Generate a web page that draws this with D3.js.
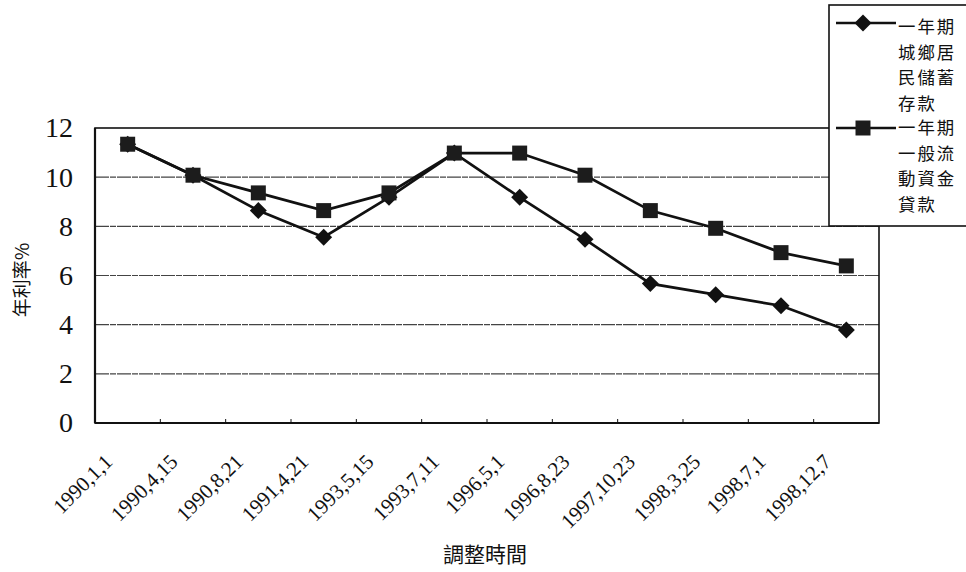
<!DOCTYPE html>
<html>
<head>
<meta charset="utf-8">
<script src="https://cdn.jsdelivr.net/npm/d3@7"></script>
<style>
  html, body { margin: 0; padding: 0; background: #fff; }
  svg { display: block; }
</style>
</head>
<body>
<svg id="chart" width="966" height="572"></svg>
<script>
const categories = ["1990,1,1","1990,4,15","1990,8,21","1991,4,21","1993,5,15","1993,7,11","1996,5,1","1996,8,23","1997,10,23","1998,3,25","1998,7,1","1998,12,7"];
const depositRates = [11.34, 10.08, 8.64, 7.56, 9.18, 10.98, 9.18, 7.47, 5.67, 5.22, 4.77, 3.78];
const loanRates = [11.34, 10.08, 9.36, 8.64, 9.36, 10.98, 10.98, 10.08, 8.64, 7.92, 6.93, 6.39];
const yTicks = [0, 2, 4, 6, 8, 10, 12];
const seriesNames = [["一年期","城鄉居","民儲蓄","存款"], ["一年期","一般流","動資金","貸款"]];
const yTitle = "年利率%";
const xTitle = "調整時間";

(function () {
const svg = d3.select("#chart");
const pLeft = 95, pRight = 879, pTop = 128, pBottom = 423;
const cjk = "'Noto Sans CJK TC', 'Noto Sans CJK SC', sans-serif";
const serif = "'Liberation Serif', 'DejaVu Serif', serif";

const x = d3.scaleBand().domain(categories).range([pLeft, pRight]).padding(0);
const y = d3.scaleLinear().domain([0, 12]).range([pBottom, pTop]);
const cx = d => x(d) + x.bandwidth() / 2;

// gridlines
svg.append("g").selectAll("line").data(yTicks.filter(d => d > 0 && d < 12)).join("line")
  .attr("x1", pLeft).attr("x2", pRight)
  .attr("y1", d => y(d)).attr("y2", d => y(d))
  .attr("stroke", "#444").attr("stroke-width", 1.2).attr("stroke-dasharray", "14,1,6,1");

// plot border
svg.append("rect").attr("x", pLeft).attr("y", pTop).attr("width", pRight - pLeft).attr("height", pBottom - pTop)
  .attr("fill", "none").attr("stroke", "#111").attr("stroke-width", 1.6);
svg.append("line").attr("x1", pLeft).attr("x2", pLeft).attr("y1", pTop).attr("y2", pBottom)
  .attr("stroke", "#111").attr("stroke-width", 2.2);
svg.append("line").attr("x1", pLeft).attr("x2", pRight).attr("y1", pBottom).attr("y2", pBottom)
  .attr("stroke", "#111").attr("stroke-width", 2.2);

// y axis tick labels
const yAxis = d3.axisLeft(y).tickValues(yTicks).tickSize(0).tickPadding(22).tickFormat(d3.format("d"));
const gy = svg.append("g").attr("transform", `translate(${pLeft},0)`).call(yAxis);
gy.select(".domain").remove();
gy.selectAll("text").attr("font-family", serif).attr("font-size", 28).attr("fill", "#111");

// x axis
const xAxis = d3.axisBottom(x).tickSize(0).tickFormat("");
const gx = svg.append("g").attr("transform", `translate(0,${pBottom})`).call(xAxis);
gx.select(".domain").remove();
svg.append("g").selectAll("line").data(categories.slice(1)).join("line")
  .attr("x1", d => x(d)).attr("x2", d => x(d))
  .attr("y1", pBottom).attr("y2", pBottom - 4)
  .attr("stroke", "#111").attr("stroke-width", 1);

// x labels rotated
svg.append("g").selectAll("text").data(categories).join("text")
  .attr("transform", d => `translate(${cx(d) - 14},${pBottom + 40}) rotate(-45)`)
  .attr("text-anchor", "end")
  .attr("font-family", serif).attr("font-size", 21).attr("fill", "#111")
  .text(d => d);

// axis titles
svg.append("text")
  .attr("transform", `translate(29,280) rotate(-90)`)
  .attr("text-anchor", "middle")
  .attr("font-family", cjk).attr("font-size", 19).attr("fill", "#111")
  .text(yTitle);
svg.append("text")
  .attr("x", 485).attr("y", 562)
  .attr("text-anchor", "middle")
  .attr("font-family", cjk).attr("font-size", 21).attr("fill", "#111")
  .text(xTitle);

// series lines
const line = d3.line().x((d, i) => cx(categories[i])).y(d => y(d));
svg.append("path").datum(depositRates).attr("d", line).attr("fill", "none").attr("stroke", "#111").attr("stroke-width", 2.7);
svg.append("path").datum(loanRates).attr("d", line).attr("fill", "none").attr("stroke", "#111").attr("stroke-width", 2.7);

const diamondPath = d3.symbol().type(d3.symbolSquare).size(144)();
const squarePath = d3.symbol().type(d3.symbolSquare).size(225)();

svg.append("g").selectAll("path").data(depositRates).join("path")
  .attr("transform", (d, i) => `translate(${cx(categories[i])},${y(d)}) rotate(45)`)
  .attr("d", diamondPath)
  .attr("fill", "#111");

svg.append("g").selectAll("path").data(loanRates).join("path")
  .attr("transform", (d, i) => `translate(${cx(categories[i])},${y(d)})`)
  .attr("d", squarePath)
  .attr("fill", "#1c1c1c");

// legend
const lg = svg.append("g");
lg.append("rect").attr("x", 829).attr("y", 5).attr("width", 145).attr("height", 221)
  .attr("fill", "#fff").attr("stroke", "#111").attr("stroke-width", 1.6);
const legendItems = [
  { names: seriesNames[0], y0: 23, ty: 27, marker: "diamond" },
  { names: seriesNames[1], y0: 128, ty: 128, marker: "square" }
];
legendItems.forEach(item => {
  lg.append("line").attr("x1", 836).attr("x2", 896).attr("y1", item.y0).attr("y2", item.y0)
    .attr("stroke", "#111").attr("stroke-width", 2.7);
  if (item.marker === "diamond") {
    lg.append("path").attr("transform", `translate(863,${item.y0}) rotate(45)`)
      .attr("d", diamondPath).attr("fill", "#111");
  } else {
    lg.append("path").attr("transform", `translate(863,${item.y0})`)
      .attr("d", squarePath).attr("fill", "#1c1c1c");
  }
  item.names.forEach((s, j) => {
    lg.append("text").attr("x", 898).attr("y", item.ty + j * 25.5)
      .attr("dy", "0.36em")
      .attr("font-family", cjk).attr("font-size", 17.4).attr("letter-spacing", 2)
      .attr("fill", "#111")
      .text(s);
  });
});
})();
</script>
</body>
</html>
